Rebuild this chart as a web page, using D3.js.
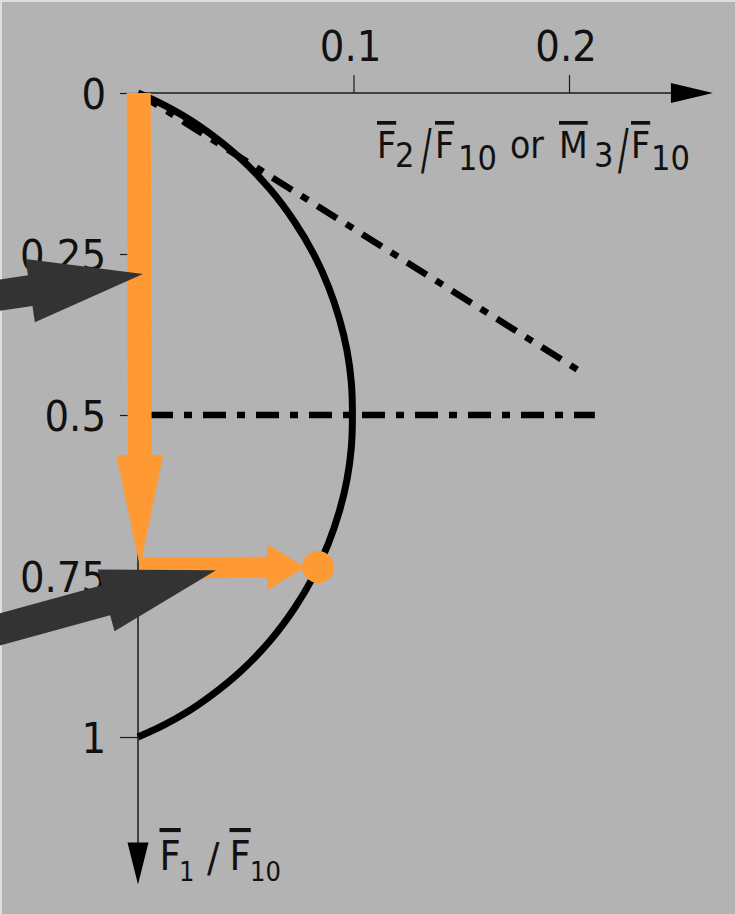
<!DOCTYPE html>
<html>
<head>
<meta charset="utf-8">
<script src="https://cdn.jsdelivr.net/npm/d3@7"></script>
<style>
  html, body { margin: 0; padding: 0; background: #b3b3b3; }
  svg { display: block; }
  text { font-family: "DejaVu Sans Condensed", "DejaVu Sans", sans-serif; font-stretch: condensed; fill: #111; }
</style>
</head>
<body>
<svg id="chart" width="735" height="914"></svg>
<script>
// Interaction curve: F1/F10 (down) against F2/F10 or M3/F10 (right)
const curveF1 = [0, 0.02, 0.05, 0.10, 0.15, 0.20, 0.25, 0.30, 0.35, 0.40, 0.45, 0.50,
                 0.55, 0.60, 0.65, 0.70, 0.75, 0.80, 0.85, 0.90, 0.95, 0.98, 1];
const curveF2 = [0, 0.0128, 0.0279, 0.0470, 0.0614, 0.0726, 0.0815, 0.0883, 0.0934, 0.0970, 0.0990, 0.0995,
                 0.0990, 0.0970, 0.0934, 0.0883, 0.0815, 0.0726, 0.0614, 0.0470, 0.0279, 0.0128, 0];

// dash-dot reference lines (F2 values, F1 values)
const diagonalF2 = [0, 0.207];
const diagonalF1 = [0, 0.436];
const levelF2 = [0, 0.212];
const levelF1 = [0.5, 0.5];

// operating point reached by the orange path
const pointF2 = 0.0836;
const pointF1 = 0.736;

// dark pointer arrows
const pointerTailF2 = [-0.0664, -0.0664];
const pointerTailF1 = [0.315, 0.835];
const pointerTipF2 = [0.0023, 0.0362];
const pointerTipF1 = [0.281, 0.741];

// axes
const xTicks = [0.1, 0.2];
const xTickLabels = ["0.1", "0.2"];
const yTicks = [0, 0.25, 0.5, 0.75, 1];
const yTickLabels = ["0", "0.25", "0.5", "0.75", "1"];
const xAxisEnd = 0.2668;
const yAxisEnd = 1.229;

const svg = d3.select("#chart");
const W = 735, H = 914;

const x = d3.scaleLinear().domain([0, 0.1]).range([138, 353.5]);
const y = d3.scaleLinear().domain([0, 1]).range([93, 737]);

// background with light top/left edge
svg.append("rect").attr("width", W).attr("height", H).attr("fill", "#b3b3b3");
svg.append("rect").attr("x", 0).attr("y", 0).attr("width", W).attr("height", 2).attr("fill", "#dedede");
svg.append("rect").attr("x", 0).attr("y", 0).attr("width", 2).attr("height", H).attr("fill", "#dedede");

// block arrow polygon from (x1,y1) to tip (x2,y2) in pixel space
function blockArrow(x1, y1, x2, y2, shaftHalf, headHalf, headLen) {
  const dx = x2 - x1, dy = y2 - y1, L = Math.hypot(dx, dy);
  const ux = dx / L, uy = dy / L, nx = -uy, ny = ux;
  const bx = x2 - ux * headLen, by = y2 - uy * headLen;
  const p = [
    [x1 + nx * shaftHalf, y1 + ny * shaftHalf],
    [bx + nx * shaftHalf, by + ny * shaftHalf],
    [bx + nx * headHalf, by + ny * headHalf],
    [x2, y2],
    [bx - nx * headHalf, by - ny * headHalf],
    [bx - nx * shaftHalf, by - ny * shaftHalf],
    [x1 - nx * shaftHalf, y1 - ny * shaftHalf]
  ];
  return "M" + p.map(d => d.join(",")).join("L") + "Z";
}

// ---- axes ----
const axisColor = "#1a1a1a";
const xAxis = d3.axisTop(x).tickValues(xTicks).tickSize(18).tickPadding(14)
  .tickFormat((d, i) => xTickLabels[i]);
const gx = svg.append("g").attr("transform", `translate(0,${y(0)})`).call(xAxis);
gx.select(".domain").remove();
gx.selectAll(".tick line").attr("stroke", axisColor).attr("stroke-width", 1.2);
gx.selectAll(".tick text").attr("font-size", 43).attr("fill", "#111").attr("dx", "-0.08em")
  .attr("font-family", null);

const yAxis = d3.axisLeft(y).tickValues(yTicks).tickSize(18).tickPadding(14)
  .tickFormat((d, i) => yTickLabels[i]);
const gy = svg.append("g").attr("transform", `translate(${x(0)},0)`).call(yAxis);
gy.select(".domain").remove();
gy.selectAll(".tick line").attr("stroke", axisColor).attr("stroke-width", 1.2);
gy.selectAll(".tick text").attr("font-size", 43).attr("fill", "#111").attr("dy", "0.36em")
  .attr("font-family", null);

// axis lines with arrowheads
svg.append("line").attr("x1", x(0)).attr("y1", y(0)).attr("x2", x(xAxisEnd) - 30).attr("y2", y(0))
  .attr("stroke", axisColor).attr("stroke-width", 1.5);
svg.append("path")
  .attr("d", `M${x(xAxisEnd) - 42},${y(0) - 10}L${x(xAxisEnd)},${y(0)}L${x(xAxisEnd) - 42},${y(0) + 10}Z`)
  .attr("fill", "#000");
svg.append("line").attr("x1", x(0)).attr("y1", y(0)).attr("x2", x(0)).attr("y2", y(yAxisEnd) - 30)
  .attr("stroke", axisColor).attr("stroke-width", 1.5);
svg.append("path")
  .attr("d", `M${x(0) - 10.5},${y(yAxisEnd) - 42}L${x(0)},${y(yAxisEnd)}L${x(0) + 10.5},${y(yAxisEnd) - 42}Z`)
  .attr("fill", "#000");

// ---- axis titles ----
function title(parts) {
  const t = svg.append("text");
  parts.forEach(p => {
    const s = t.append("tspan").attr("x", p.x).attr("y", p.y).attr("font-size", p.size).text(p.t);
    if (p.bar) s.style("text-decoration", "overline");
  });
  return t;
}
// tall, narrow fraction slash
function slash(px, py, size, sx) {
  svg.append("text")
    .attr("transform", `translate(${px},${py}) scale(${sx},1)`)
    .attr("font-size", size).text("/");
}
title([
  { t: "F", x: 377, y: 158, size: 37, bar: true },
  { t: "2", x: 395, y: 167, size: 34 },
  { t: "F", x: 435, y: 158, size: 37, bar: true },
  { t: "10", x: 458, y: 170, size: 34 },
  { t: "or", x: 510, y: 158, size: 37 },
  { t: "M", x: 559, y: 158, size: 37, bar: true },
  { t: "3", x: 594, y: 167, size: 34 },
  { t: "F", x: 631, y: 158, size: 37, bar: true },
  { t: "10", x: 651, y: 170, size: 34 }
]);
slash(421, 168, 56, 0.62);
slash(618, 168, 56, 0.62);

title([
  { t: "F", x: 159.5, y: 870, size: 41, bar: true },
  { t: "1", x: 179, y: 881, size: 27 },
  { t: "/", x: 207, y: 872, size: 41 },
  { t: "F", x: 229.5, y: 870, size: 41, bar: true },
  { t: "10", x: 250, y: 881, size: 27 }
]);

// ---- dash-dot reference lines ----
const dash = "23,11,8,11";
svg.append("line")
  .attr("x1", x(diagonalF2[0])).attr("y1", y(diagonalF1[0]))
  .attr("x2", x(diagonalF2[1])).attr("y2", y(diagonalF1[1]))
  .attr("stroke", "#000").attr("stroke-width", 6.5).attr("stroke-dasharray", dash);
svg.append("line")
  .attr("x1", x(levelF2[0]) + 12).attr("y1", y(levelF1[0]))
  .attr("x2", x(levelF2[1])).attr("y2", y(levelF1[1]))
  .attr("stroke", "#000").attr("stroke-width", 6.5).attr("stroke-dasharray", dash);

// ---- interaction curve ----
const pts = curveF1.map((v, i) => [curveF2[i], v]);
svg.append("path")
  .attr("d", d3.line().x(d => x(d[0])).y(d => y(d[1])).curve(d3.curveCatmullRom.alpha(0.5))(pts))
  .attr("fill", "none").attr("stroke", "#000").attr("stroke-width", 7);

// ---- orange load path ----
const orange = "#ff9933";
svg.append("path")
  .attr("d", blockArrow(x(0) + 0.8, y(0), x(0) + 2, y(pointF1), 12, 23.5, 112))
  .attr("fill", orange);
const dotR = 16;
svg.append("path")
  .attr("d", blockArrow(x(0) + 2, y(pointF1) + 1, x(pointF2) - dotR + 3, y(pointF1), 10.5, 23, 38))
  .attr("fill", orange);
svg.append("circle").attr("cx", x(pointF2)).attr("cy", y(pointF1)).attr("r", dotR).attr("fill", orange);

// ---- dark pointer arrows ----
pointerTailF2.forEach((_, i) => {
  svg.append("path")
    .attr("d", blockArrow(x(pointerTailF2[i]), y(pointerTailF1[i]), x(pointerTipF2[i]), y(pointerTipF1[i]), 15.5, 32, 114))
    .attr("fill", "#333333");
});
</script>
</body>
</html>
